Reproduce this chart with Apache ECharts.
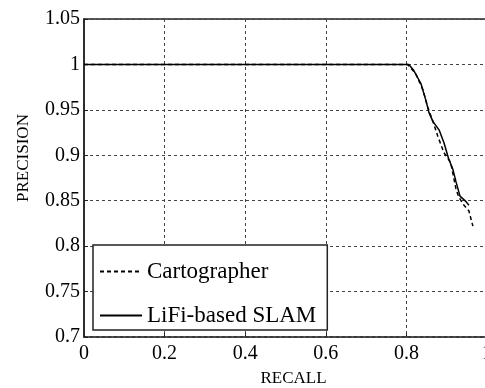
<!DOCTYPE html>
<html>
<head>
<meta charset="utf-8">
<script src="https://cdn.jsdelivr.net/npm/echarts@6/dist/echarts.min.js"></script>
<style>html,body{margin:0;padding:0;background:#fff;}#c{width:485px;height:388px;}</style>
</head>
<body>
<div id="c"></div>
<script>
var seriesNames = ['Cartographer', 'LiFi-based SLAM'];
var cartoRecall    = [0, 0.796, 0.803, 0.823, 0.841, 0.853, 0.866, 0.878, 0.893, 0.910, 0.918, 0.923, 0.930, 0.943, 0.955, 0.965];
var cartoPrecision = [1, 1.000, 1.000, 0.990, 0.972, 0.953, 0.937, 0.921, 0.903, 0.892, 0.874, 0.863, 0.854, 0.845, 0.839, 0.822];
var lifiRecall     = [0, 0.799, 0.806, 0.818, 0.836, 0.848, 0.856, 0.866, 0.881, 0.893, 0.905, 0.915, 0.923, 0.933, 0.948, 0.955];
var lifiPrecision  = [1, 1.000, 1.000, 0.9935, 0.979, 0.961, 0.947, 0.937, 0.928, 0.914, 0.896, 0.885, 0.871, 0.855, 0.849, 0.845];
var xAxisName = 'RECALL';
var yAxisName = 'PRECISION';

function pairs(xs, ys) { return xs.map(function (x, i) { return [x, ys[i]]; }); }

var font = 'Liberation Serif, Times New Roman, serif';
var chart = echarts.init(document.getElementById('c'), null, {renderer: 'canvas'});
chart.setOption({
  animation: false,
  backgroundColor: '#fff',
  grid: {left: 84, top: 19, right: -2, bottom: 51, outerBoundsMode: 'none', containLabel: false,
         show: true, borderColor: '#222', borderWidth: 1.5, backgroundColor: 'transparent'},
  legend: {
    orient: 'vertical', left: 93, top: 245,
    data: seriesNames,
    itemWidth: 42, itemHeight: 14, itemGap: 21,
    padding: [15, 11, 3, 6],
    borderColor: '#222', borderWidth: 1.5, backgroundColor: '#fff',
    itemStyle: {opacity: 0},
    textStyle: {fontFamily: font, fontSize: 23, color: '#000', lineHeight: 23}
  },
  xAxis: {
    type: 'value', min: 0, max: 1, interval: 0.2,
    name: xAxisName, nameLocation: 'middle', nameGap: 33,
    nameTextStyle: {fontFamily: font, fontSize: 17, color: '#000', padding: [0, 0, 0, 16]},
    axisLine: {show: true, onZero: false, lineStyle: {color: '#333', width: 1.5, type: [3, 3]}},
    axisTick: {show: true, inside: true, length: 4, lineStyle: {color: '#222'}},
    axisLabel: {fontFamily: font, fontSize: 20, color: '#000', margin: 7},
    splitLine: {show: true, lineStyle: {color: '#444', width: 1, type: [3, 3]}}
  },
  yAxis: {
    type: 'value', min: 0.7, max: 1.05, interval: 0.05,
    name: yAxisName, nameLocation: 'middle', nameGap: 52,
    nameTextStyle: {fontFamily: font, fontSize: 17, color: '#000', padding: [0, 0, 0, 40]},
    axisLine: {show: true, lineStyle: {color: '#222', width: 1.5}},
    axisTick: {show: true, inside: true, length: 4, lineStyle: {color: '#222'}},
    axisLabel: {fontFamily: font, fontSize: 20, color: '#000', margin: 4},
    splitLine: {show: true, lineStyle: {color: '#444', width: 1, type: [3, 3]}}
  },
  series: [
    {name: seriesNames[0], type: 'line', data: pairs(cartoRecall, cartoPrecision), symbol: 'none', smooth: false,
     color: '#000', lineStyle: {color: '#000', width: 1.5, type: [4, 3]}, z: 3},
    {name: seriesNames[1], type: 'line', data: pairs(lifiRecall, lifiPrecision), symbol: 'none', smooth: false,
     color: '#000', lineStyle: {color: '#000', width: 1.5, type: 'solid'}, z: 4}
  ]
});
</script>
</body>
</html>
